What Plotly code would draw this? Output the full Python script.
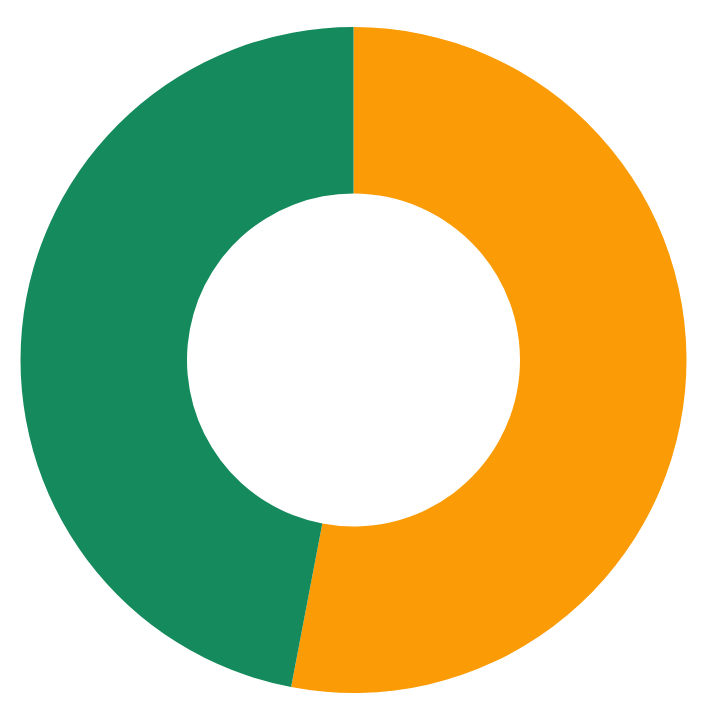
import plotly.graph_objects as go

labels = ["Orange", "Green"]
values = [53, 47]
colors = ["#FB9B05", "#148A5D"]

fig = go.Figure(
    go.Pie(
        labels=labels,
        values=values,
        hole=0.5,
        sort=False,
        direction="clockwise",
        rotation=0,
        marker=dict(colors=colors, line=dict(width=0)),
        textinfo="none",
        hoverinfo="label+percent",
    )
)
fig.update_layout(
    width=708,
    height=713,
    showlegend=False,
    margin=dict(l=12, r=29, t=19, b=28),
    paper_bgcolor="white",
    plot_bgcolor="white",
)
fig.write_html("out.html")
